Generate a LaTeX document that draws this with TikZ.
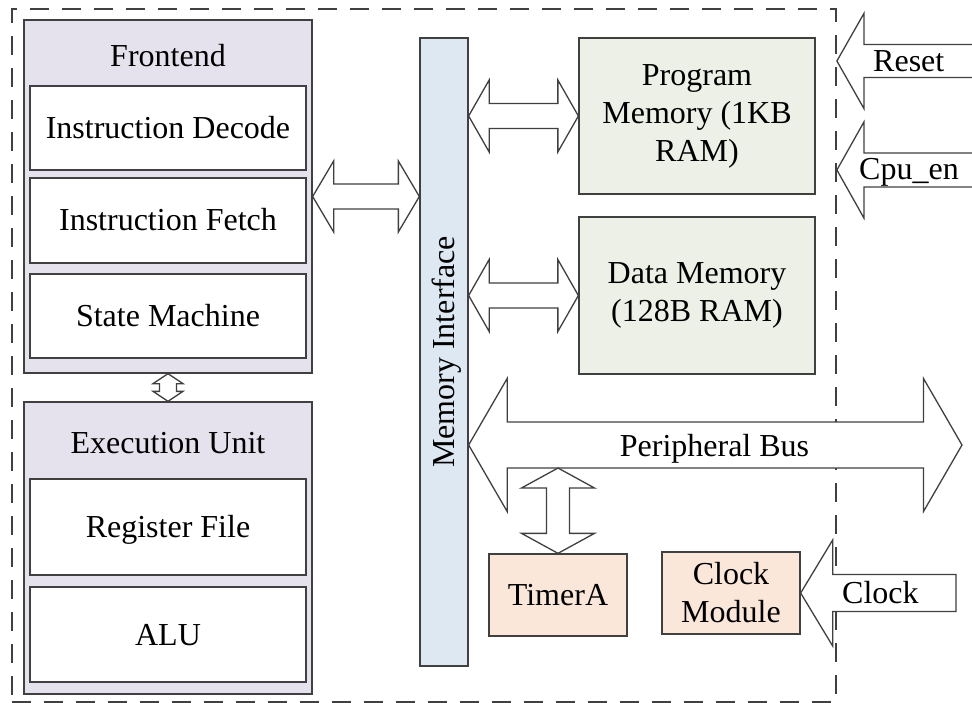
\documentclass[tikz,border=0pt]{standalone}
\usepackage{fontspec}
\setmainfont{Liberation Serif}
\usetikzlibrary{calc}
\definecolor{edge}{HTML}{404040}
\definecolor{lav}{HTML}{E5E2EE}
\definecolor{memblue}{HTML}{DEE8F3}
\definecolor{memgreen}{HTML}{EDF0E6}
\definecolor{peach}{HTML}{FBE6DA}
\newcommand\dblH[5]{%
 \draw[fat] let \p1=#1, \p2=#2 in
 (\x1,\y1) -- (\x1+#5,\y1+#3) -- (\x1+#5,\y1+#4) -- (\x2-#5,\y1+#4) -- (\x2-#5,\y1+#3) -- (\x2,\y1)
 -- (\x2-#5,\y1-#3) -- (\x2-#5,\y1-#4) -- (\x1+#5,\y1-#4) -- (\x1+#5,\y1-#3) -- cycle;}
\newcommand\dblV[5]{%
 \draw[fat] let \p1=#1, \p2=#2 in
 (\x1,\y1) -- (\x1+#3,\y1-#5) -- (\x1+#4,\y1-#5) -- (\x1+#4,\y2+#5) -- (\x1+#3,\y2+#5) -- (\x1,\y2)
 -- (\x1-#3,\y2+#5) -- (\x1-#4,\y2+#5) -- (\x1-#4,\y1-#5) -- (\x1-#3,\y1-#5) -- cycle;}
\newcommand\sglL[5]{%
 \draw[fat] let \p1=#1, \p2=#2 in
 (\x1,\y1) -- (\x1+#5,\y1+#3) -- (\x1+#5,\y1+#4) -- (\x2,\y1+#4) -- (\x2,\y1-#4)
 -- (\x1+#5,\y1-#4) -- (\x1+#5,\y1-#3) -- cycle;}
\tikzset{
  every node/.style={font=\fontsize{32}{38}\selectfont, text=black},
  box/.style={draw=edge, line width=1.3pt, inner sep=0pt, rectangle},
  capt/.style={text height=21pt, text depth=0pt},
  fat/.style={draw=edge, line width=1.3pt, fill=white, line join=miter},
}
\begin{document}
\begin{tikzpicture}[x=1pt,y=-1pt]
\useasboundingbox (0,0) rectangle (972,703);
% outer dashed frame
\node[draw=edge, line width=1.8pt, dash pattern=on 19pt off 13pt, inner sep=0pt,
      minimum width=824pt, minimum height=693pt] (outer) at (424,355.5) {};
% frontend
\node[box, fill=lav, minimum width=288pt, minimum height=353pt] (fe) at (168,196.5) {};
\node[anchor=base] (fet) at (168,67) {Frontend};
\node[box, capt, fill=white, minimum width=276pt, minimum height=84pt] (id) at (168,128) {Instruction Decode};
\node[box, capt, fill=white, minimum width=276pt, minimum height=85pt] (ifn) at (168,220.5) {Instruction Fetch};
\node[box, capt, fill=white, minimum width=276pt, minimum height=84pt] (sm) at (168,316) {State Machine};
% execution unit
\node[box, fill=lav, minimum width=288pt, minimum height=292pt] (ex) at (168,548) {};
\node[anchor=base] (ext) at (168,453) {Execution Unit};
\node[box, capt, fill=white, minimum width=276pt, minimum height=96pt] (rf) at (168,527) {Register File};
\node[box, capt, fill=white, minimum width=276pt, minimum height=95pt] (alu) at (168,634.5) {ALU};
% memory interface
\node[box, fill=memblue, minimum width=48pt, minimum height=628pt] (mem) at (444,352) {};
\node[capt, rotate=90] (meml) at (444,352) {Memory Interface};
% memories
\node[box, fill=memgreen, minimum width=236pt, minimum height=156pt, align=center] (pm) at (697,116) {Program\\Memory (1KB\\RAM)};
\node[box, fill=memgreen, minimum width=236pt, minimum height=157pt, align=center] (dm) at (697,295.5) {Data Memory\\(128B RAM)};
% peripherals
\node[box, capt, fill=peach, minimum width=138pt, minimum height=82pt] (ta) at (558,595) {TimerA};
\node[box, fill=peach, minimum width=138pt, minimum height=82pt, align=center] (cm) at (731,593) {Clock\\Module};
% coordinates
\coordinate (busR) at (962,445);
\coordinate (busB) at (558,468);
\coordinate (rsT) at (1000,61);
\coordinate (cpT) at (1000,170);
\coordinate (clT) at (956,593);
% arrows
\dblH{(fe.east)}{(mem.west |- fe.east)}{35.5pt}{12.5pt}{21pt}
\dblH{(mem.east |- pm.west)}{(pm.west)}{36pt}{12.5pt}{20.5pt}
\dblH{(mem.east |- dm.west)}{(dm.west)}{36pt}{12.5pt}{20.5pt}
\dblH{(mem.east |- busR)}{(busR)}{66.5pt}{23pt}{38.5pt}
\dblV{(busB)}{(ta.north)}{36.5pt}{11.5pt}{20pt}
\dblV{(fe.south)}{(ex.north)}{15pt}{8.5pt}{10pt}
\sglL{(outer.east |- rsT)}{(rsT)}{47.5pt}{16.5pt}{27pt}
\sglL{(outer.east |- cpT)}{(cpT)}{48pt}{17pt}{27pt}
\sglL{(cm.east)}{(clT)}{53pt}{18.5pt}{32pt}
% labels
\node[anchor=base] (busl) at (714.5,456) {Peripheral Bus};
\node[anchor=base west, inner sep=0pt] (rsl) at (873,72) {Reset};
\node[anchor=base west, inner sep=0pt] (cpl) at (859,180) {Cpu\_en};
\node[anchor=base west, inner sep=0pt] (cll) at (842,603) {Clock};
\end{tikzpicture}
\end{document}
